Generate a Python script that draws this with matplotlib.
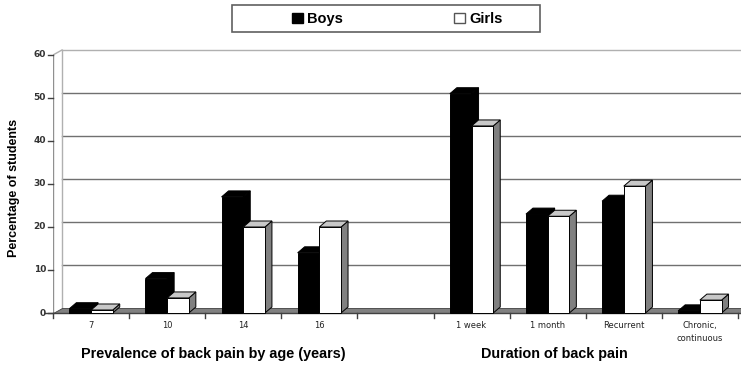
import numpy as np
import matplotlib.pyplot as plt
from matplotlib.patches import Polygon, Patch, Rectangle

# data
categories = ['7', '10', '14', '16', '', '1 week', '1 month', 'Recurrent', 'Chronic,\ncontinuous']
boys = [1, 8, 27, 14, np.nan, 51, 23, 26, 0.5]
girls = [0.7, 3.5, 20, 20, np.nan, 43.5, 22.5, 29.5, 3]
yticks = [0, 10, 20, 30, 40, 50, 60]

W, H = 741, 366
fig = plt.figure(figsize=(W / 100, H / 100), dpi=100)
# axes placed in pixel terms: x boundaries 53..741, y 0 at 313px, 60 at 55px
px_per_y = (313 - 55) / 60
ax = fig.add_axes([53 / W, (H - 316) / H, (W - 53) / W, (316 - 45) / H])
xmax = -0.5 + (W - 53) / 76.1
ax.set_xlim(-0.5, xmax)
ax.set_ylim(-3 / px_per_y, (313 - 45) / px_per_y)
ax.axis('off')

dxw, dyw = 9 / 76.1, 5 / px_per_y      # wall depth
dxb, dyb = 7 / 76.1, 6 / px_per_y      # bar depth

# back wall gridlines
for v in yticks[1:]:
    col = '#b0b0b0' if v == 60 else '#707070'
    ax.plot([-0.5 + dxw, xmax + 1], [v + dyw, v + dyw], color=col, lw=1.0, zorder=1, clip_on=False)
# back wall left edge and side wall
ax.plot([-0.5 + dxw, -0.5 + dxw], [dyw, 60 + dyw], color='#b0b0b0', lw=1.0, zorder=1)
ax.plot([-0.5, -0.5], [0, 60], color='#909090', lw=1.0, zorder=2)
ax.plot([-0.5, -0.5 + dxw], [60, 60 + dyw], color='#b0b0b0', lw=1.0, zorder=2)

# floor
ax.add_patch(Polygon([(-0.5, 0), (xmax + 1, 0), (xmax + 1, dyw), (-0.5 + dxw, dyw)],
                     closed=True, facecolor='#808080', edgecolor='#404040', lw=0.6, zorder=2, clip_on=False))
ax.plot([-0.6, xmax + 1], [0, 0], color='#404040', lw=1.0, zorder=2, clip_on=False)

# y ticks
for v in yticks:
    ax.plot([-0.5 - 5 / 76.1, -0.5], [v, v], color='#404040', lw=1.0, zorder=2, clip_on=False)
    ax.text(-0.5 - 7 / 76.1, v, str(v), ha='right', va='center', fontsize=6.5,
            fontweight='bold', color='#333333', family='DejaVu Sans')
# x ticks at category boundaries
for b in np.arange(-0.5, len(categories) + 0.5):
    ax.plot([b, b], [0, -5 / px_per_y], color='#404040', lw=1.0, zorder=2, clip_on=False)
for i, c in enumerate(categories):
    ax.text(i, -8 / px_per_y, c, ha='center', va='top', fontsize=6, color='#222222',
            family='DejaVu Sans', linespacing=1.6)


def bar3d(x0, x1, h, front, top, side):
    if np.isnan(h):
        return
    ax.add_patch(Polygon([(x1, 0), (x1 + dxb, dyb), (x1 + dxb, h + dyb), (x1, h)],
                         facecolor=side, edgecolor='black', lw=0.7, zorder=3))
    ax.add_patch(Polygon([(x0, h), (x1, h), (x1 + dxb, h + dyb), (x0 + dxb, h + dyb)],
                         facecolor=top, edgecolor='black', lw=0.7, zorder=3))


bw = 0.285
x = np.arange(len(categories))
for i in x:
    bar3d(i - bw, i, boys[i], 'black', 'black', 'black')
ax.bar(x - bw / 2, boys, width=bw, color='black', edgecolor='black', lw=0.7, zorder=3)
for i in x:
    bar3d(i, i + bw, girls[i], 'white', '#c8c8c8', '#808080')
ax.bar(x + bw / 2, girls, width=bw, color='white', edgecolor='black', lw=0.7, zorder=4)

# axis and group titles
fig.text(14 / W, 1 - 188 / H, 'Percentage of students', rotation=90, ha='center', va='center',
         fontsize=9, fontweight='bold', family='Liberation Sans')
fig.text(213 / W, 1 - 354 / H, 'Prevalence of back pain by age (years)', ha='center', va='center',
         fontsize=10.4, fontweight='bold', family='Liberation Sans')
fig.text(554 / W, 1 - 354 / H, 'Duration of back pain', ha='center', va='center',
         fontsize=10.4, fontweight='bold', family='Liberation Sans')

# legend: frame drawn as a box, entries placed inside
fig.add_artist(Rectangle((232 / W, 1 - 32 / H), (540 - 232) / W, 27 / H, transform=fig.transFigure,
                         facecolor='white', edgecolor='#606060', lw=1.2))
handles = [Patch(facecolor='black', edgecolor='black', label='Boys'),
           Patch(facecolor='white', edgecolor='#555555', label='Girls')]
leg = fig.legend(handles=handles, ncol=2, loc='center', bbox_to_anchor=(397 / W, 1 - 19 / H),
                 frameon=False, handlelength=0.75, handleheight=0.75,
                 handletextpad=0.3, columnspacing=7.6,
                 prop={'family': 'Liberation Sans', 'weight': 'bold', 'size': 10.5})

fig.savefig('out.png', dpi=100)
